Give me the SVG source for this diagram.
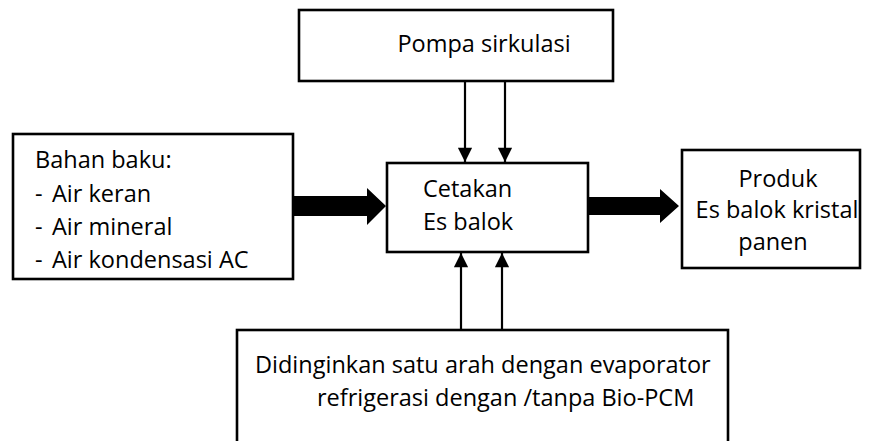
<svg xmlns="http://www.w3.org/2000/svg" width="878" height="441" viewBox="0 0 878 441">
<defs>
<style>
.box{fill:#fff;stroke:#000;stroke-width:2.6}
.t{font-family:"Open Sans","Noto Sans","DejaVu Sans",sans-serif;font-size:23.5px;fill:#000}
.ln{stroke:#000;stroke-width:2.2;fill:none}
.fat{fill:#000;stroke:none}
</style>
<marker id="ah" viewBox="0 0 10 10" refX="10" refY="5" markerWidth="7" markerHeight="6.5" markerUnits="strokeWidth" orient="auto">
<path d="M0,0 L10,5 L0,10 Z" fill="#000"/>
</marker>
</defs>
<rect width="878" height="441" fill="#fff"/>
<g id="pompa">
<rect class="box" x="299" y="10" width="314" height="71"/>
<text class="t" x="484" y="52" text-anchor="middle">Pompa sirkulasi</text>
</g>
<g id="bahan">
<rect class="box" x="13" y="134" width="280" height="145"/>
<text class="t" x="35" y="168">Bahan baku:</text>
<text class="t" y="202"><tspan x="35">-</tspan><tspan x="52">Air keran</tspan></text>
<text class="t" y="235"><tspan x="35">-</tspan><tspan x="52">Air mineral</tspan></text>
<text class="t" y="268"><tspan x="35">-</tspan><tspan x="52">Air kondensasi AC</tspan></text>
</g>
<g id="cetakan">
<rect class="box" x="387" y="163" width="201" height="89"/>
<text class="t" x="423" y="197">Cetakan</text>
<text class="t" x="423" y="230">Es balok</text>
</g>
<g id="produk">
<rect class="box" x="682" y="150" width="178" height="118"/>
<text class="t" x="778" y="187" text-anchor="middle">Produk</text>
<text class="t" x="777" y="218" text-anchor="middle">Es balok kristal</text>
<text class="t" x="773" y="250" text-anchor="middle">panen</text>
</g>
<g id="didinginkan">
<rect class="box" x="237" y="330" width="491" height="140"/>
<text class="t" x="255" y="373">Didinginkan satu arah dengan evaporator</text>
<text class="t" x="317" y="406">refrigerasi dengan /tanpa Bio-PCM</text>
</g>
<g id="connectors">
<line class="ln" x1="465" y1="82" x2="465" y2="162" marker-end="url(#ah)"/>
<line class="ln" x1="505" y1="82" x2="505" y2="162" marker-end="url(#ah)"/>
<line class="ln" x1="461" y1="329" x2="461" y2="253" marker-end="url(#ah)"/>
<line class="ln" x1="502" y1="329" x2="502" y2="253" marker-end="url(#ah)"/>
<polygon class="fat" points="294,196 367,196 367,188 386,206 367,225 367,216 294,216"/>
<polygon class="fat" points="589,197 660,197 660,189 679,206 660,223 660,215 589,215"/>
</g>
</svg>
